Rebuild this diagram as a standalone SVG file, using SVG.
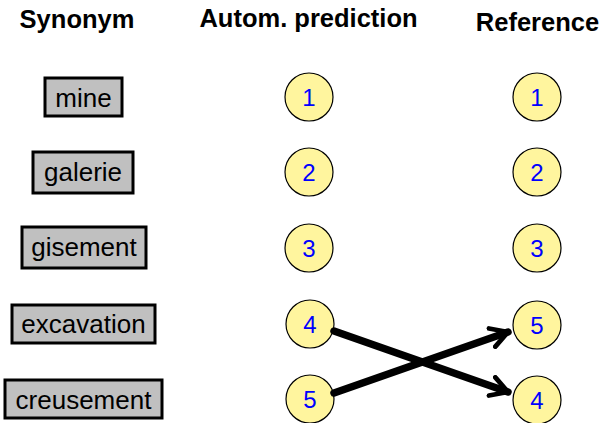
<svg xmlns="http://www.w3.org/2000/svg" width="602" height="423" viewBox="0 0 602 423">
  <defs>
    <style>
      .hdr { font-family: "Liberation Sans", Arial, sans-serif; font-weight: bold; font-size: 25.5px; text-anchor: middle; fill: #000; }
      .syn rect { fill: #c0c0c0; stroke: #000; stroke-width: 3; }
      .syn text { font-family: "Liberation Sans", Arial, sans-serif; font-size: 26px; text-anchor: middle; fill: #000; }
      .num circle { fill: #fff59e; stroke: #000; stroke-width: 1.2; }
      .num text { font-family: "Liberation Sans", Arial, sans-serif; font-size: 24px; text-anchor: middle; fill: #0000ff; }
      .edge { stroke: #000; stroke-width: 7.5; fill: none; stroke-linecap: round; }
    </style>
    <marker id="chev" viewBox="0 0 10 10" refX="8" refY="5" markerWidth="3.2" markerHeight="3.2" orient="auto" markerUnits="strokeWidth">
      <path d="M1,1 L8,5 L1,9" fill="none" stroke="#000" stroke-width="2" stroke-linecap="round" stroke-linejoin="round"/>
    </marker>
  </defs>
  <rect width="602" height="423" fill="#fff"/>

  <!-- column headers -->
  <text class="hdr" x="77" y="28">Synonym</text>
  <text class="hdr" x="308.5" y="27">Autom. prediction</text>
  <text class="hdr" x="537.5" y="31">Reference</text>

  <!-- synonym boxes -->
  <g id="syn-mine" class="syn"><rect x="45" y="78" width="77" height="38"/><text x="83.5" y="106.5">mine</text></g>
  <g id="syn-galerie" class="syn"><rect x="33" y="152" width="100" height="41"/><text x="83" y="181">galerie</text></g>
  <g id="syn-gisement" class="syn"><rect x="22" y="227" width="124" height="41"/><text x="84" y="256">gisement</text></g>
  <g id="syn-excavation" class="syn"><rect x="12" y="305" width="143" height="38"/><text x="83.5" y="333">excavation</text></g>
  <g id="syn-creusement" class="syn"><rect x="5" y="380" width="157" height="38"/><text x="83.5" y="409">creusement</text></g>

  <!-- predicted ranks -->
  <g id="pred-1" class="num"><circle cx="309" cy="97" r="24"/><text x="309" y="106">1</text></g>
  <g id="pred-2" class="num"><circle cx="309" cy="172" r="24"/><text x="309" y="181">2</text></g>
  <g id="pred-3" class="num"><circle cx="309" cy="248" r="24"/><text x="309" y="257">3</text></g>
  <g id="pred-4" class="num"><circle cx="310" cy="324" r="24"/><text x="310" y="333">4</text></g>
  <g id="pred-5" class="num"><circle cx="310" cy="399" r="24"/><text x="310" y="408">5</text></g>

  <!-- reference ranks -->
  <g id="ref-1" class="num"><circle cx="537" cy="97" r="24"/><text x="537" y="106">1</text></g>
  <g id="ref-2" class="num"><circle cx="537" cy="172" r="24"/><text x="537" y="181">2</text></g>
  <g id="ref-3" class="num"><circle cx="537" cy="248" r="24"/><text x="537" y="257">3</text></g>
  <g id="ref-5" class="num"><circle cx="537" cy="325" r="24"/><text x="537" y="334">5</text></g>
  <g id="ref-4" class="num"><circle cx="537" cy="400" r="24"/><text x="537" y="409">4</text></g>

  <!-- rank-swap connectors -->
  <g id="connectors">
    <line class="edge" x1="334" y1="331" x2="508" y2="392" marker-end="url(#chev)"/>
    <line class="edge" x1="334" y1="393" x2="508" y2="332" marker-end="url(#chev)"/>
  </g>
</svg>
